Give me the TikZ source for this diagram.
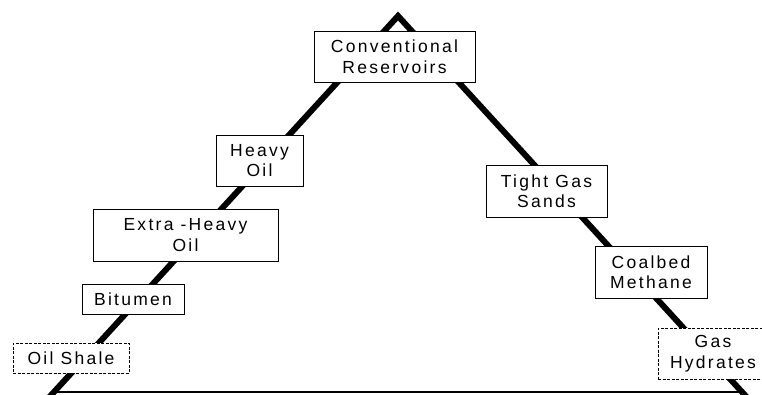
\documentclass[tikz,border=0pt]{standalone}
\usepackage{fontspec}
\setmainfont{Liberation Sans}[LetterSpace=13]
\begin{document}
\begin{tikzpicture}[x=1pt,y=-1pt,
  lbl/.style={draw, line width=1pt, fill=white, align=center, inner sep=0pt,
    font=\fontsize{17.5}{20.5}\selectfont},
  dbox/.style={lbl, dash pattern=on 3pt off 1.5pt},
  side/.style={line width=6pt, line join=miter},
  base/.style={line width=2pt}]
\useasboundingbox (0,0) rectangle (762,394);
% triangle
\coordinate (apex) at (398,16);
\coordinate (bl) at (43,404);
\coordinate (br) at (753,404);
\coordinate (b1) at (56,392);
\coordinate (b2) at (741,392);
\draw[base] (b1) -- (b2);
\draw[side] (bl) -- (apex) -- (br);
% labels
\node[lbl, minimum width=161pt, minimum height=51pt] (conv) at (394.5,56.5) {Conventional\\Reservoirs};
\node[lbl, minimum width=87pt, minimum height=51pt] (heavy) at (259.5,160.5) {Heavy\\Oil};
\node[lbl, minimum width=185pt, minimum height=52pt] (xheavy) at (185.5,235) {Extra -Heavy\\Oil};
\node[lbl, minimum width=102pt, minimum height=30pt] (bitumen) at (133,299) {Bitumen};
\node[dbox, minimum width=116pt, minimum height=30pt] (shale) at (71,358) {Oil Shale};
\node[lbl, minimum width=121pt, minimum height=52pt] (tight) at (546.5,191) {Tight Gas\\Sands};
\node[lbl, minimum width=112pt, minimum height=52pt] (coal) at (651,272) {Coalbed\\Methane};
\node[dbox, minimum width=110pt, minimum height=51pt] (hydr) at (713,353.5) {Gas\\Hydrates};
\end{tikzpicture}
\end{document}
